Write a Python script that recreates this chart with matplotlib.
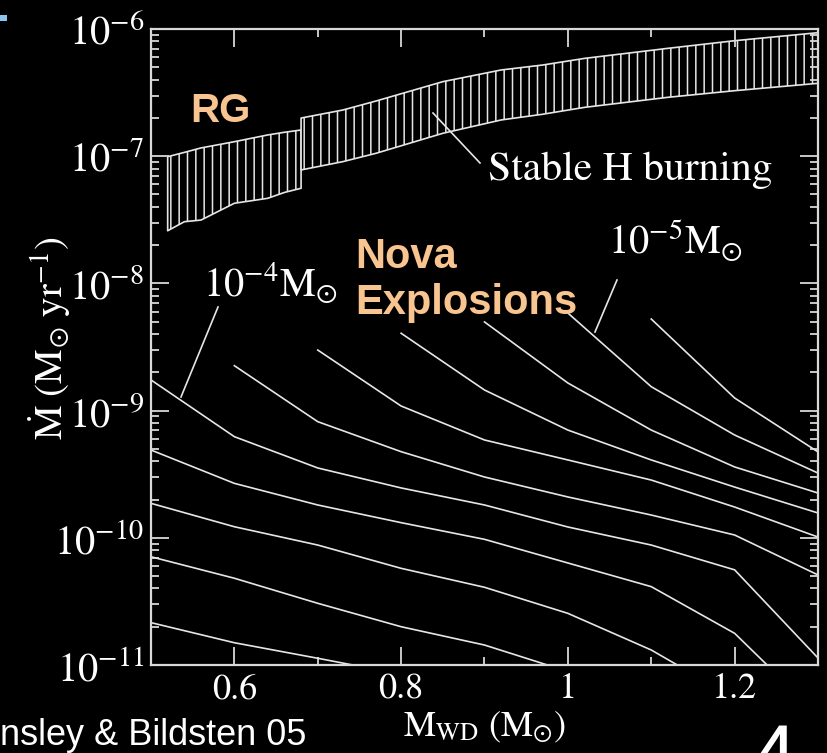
import matplotlib
matplotlib.use("Agg")
import numpy as np
import matplotlib.pyplot as plt
from matplotlib.lines import Line2D
from matplotlib.patches import Rectangle

plt.rcParams['mathtext.fontset'] = 'stix'
plt.rcParams['hatch.linewidth'] = 1.1

W, H = 828, 753
FG = '#e6e6e6'
ORANGE = '#f8c48f'

# White-dwarf mass grid (M_sun) on which the ignition curves are tabulated
mwd = [0.5, 0.6, 0.7, 0.8, 0.9, 1.0, 1.1, 1.2, 1.3]

# Mass at which each constant-ignition-mass curve begins
curve_start = [1.1, 1.0, 0.9, 0.8, 0.7, 0.6, 0.5, 0.5, 0.5, 0.5, 0.5]

# log10 accretion rate (M_sun/yr) along each curve, from the smallest
# ignition mass (upper right, 1e-5 is the second) to the largest (lower left)
curve_logmdot = [
    [-8.280, -8.901, -9.325],
    [-8.233, -8.812, -9.192, -9.491],
    [-8.303, -8.783, -9.153, -9.443, -9.648],
    [-8.392, -8.838, -9.153, -9.388, -9.601, -9.805],
    [-8.524, -8.964, -9.231, -9.388, -9.546, -9.758, -9.994],
    [-8.647, -9.087, -9.323, -9.522, -9.679, -9.821, -9.978, -10.292],
    [-8.759, -9.205, -9.451, -9.608, -9.742, -9.915, -10.057, -10.252, -10.945],
    [-9.310, -9.572, -9.742, -9.881, -10.012, -10.198, -10.384, -10.751, -11.39],
    [-9.729, -9.913, -10.057, -10.240, -10.389, -10.594, -10.882, -11.26],
    [-10.149, -10.318, -10.515, -10.699, -10.843, -11.051],
    [-10.667, -10.825, -10.947, -11.073],
]

# Stable hydrogen burning band (log10 Mdot), in two pieces with a step at 0.68
band1_m = [0.52, 0.54, 0.56, 0.60, 0.64, 0.66, 0.68]
band1_upper = [-7.004, -6.970, -6.935, -6.886, -6.833, -6.812, -6.794]
band1_lower = [-7.586, -7.515, -7.502, -7.370, -7.331, -7.285, -7.252]
band2_m = [0.68, 0.73, 0.77, 0.85, 0.92, 0.97, 1.02, 1.12, 1.20, 1.30]
band2_upper = [-6.700, -6.637, -6.566, -6.414, -6.322, -6.283, -6.231, -6.152, -6.092, -6.029]
band2_lower = [-7.108, -7.043, -6.977, -6.820, -6.715, -6.670, -6.616, -6.537, -6.485, -6.427]

x_major = [0.6, 0.8, 1.0, 1.2]
x_major_labels = ['0.6', '0.8', '1', '1.2']
x_minor = [0.7, 0.9, 1.1]
y_major = [1e-11, 1e-10, 1e-9, 1e-8, 1e-7, 1e-6]
y_major_labels = [r'$10^{-11}$', r'$10^{-10}$', r'$10^{-9}$',
                  r'$10^{-8}$', r'$10^{-7}$', r'$10^{-6}$']


def fx(x):
    return x / W


def fy(y):
    return 1 - y / H


fig = plt.figure(figsize=(W / 100, H / 100), dpi=100, facecolor='black')
ax = fig.add_axes([fx(151), fy(665), (818 - 151) / W, (665 - 29) / H])
ax.set_facecolor('black')
ax.set_yscale('log')
ax.set_xlim(0.5, 1.3)
ax.set_ylim(1e-11, 1e-6)

# constant ignition mass curves
for start, vals in zip(curve_start, curve_logmdot):
    i0 = mwd.index(start)
    m = mwd[i0:i0 + len(vals)]
    ax.plot(m, 10 ** np.array(vals), color=FG, lw=1.2, solid_joinstyle='miter')

# hatched stable-burning band
for m, lo, up in [(band1_m, band1_lower, band1_upper),
                  (band2_m, band2_lower, band2_upper)]:
    ax.fill_between(m, 10 ** np.array(lo), 10 ** np.array(up),
                    facecolor='black', edgecolor=FG, hatch='||', lw=1.2)

# axes styling
for s in ax.spines.values():
    s.set_color('#d8d8d8')
    s.set_linewidth(1.6)
ax.set_xticks(x_major, x_major_labels)
ax.set_xticks(x_minor, minor=True)
ax.set_yticks(y_major, y_major_labels)
ax.yaxis.set_minor_locator(matplotlib.ticker.LogLocator(base=10, subs=np.arange(2, 10)))
ax.yaxis.set_minor_formatter(matplotlib.ticker.NullFormatter())
ax.tick_params(which='both', direction='in', top=True, right=True,
               colors='#d8d8d8', width=1.3)
ax.tick_params(which='major', length=13)
ax.tick_params(which='minor', length=6)
ax.tick_params(axis='x', labelsize=26, pad=6, labelcolor='white')
ax.tick_params(axis='y', labelsize=29, pad=5, labelcolor='white')
for lab in ax.get_xticklabels():
    lab.set_family('STIXGeneral')

# axis titles
fig.text(fx(50), fy(338), r'$\dot{\mathrm{M}}\ (\mathrm{M}_{\odot}\ \mathrm{yr}^{-1})$',
         rotation=90, ha='center', va='center', fontsize=28, color='white')
fig.text(fx(485), fy(736), r'$\mathrm{M}_{\mathrm{WD}}\ (\mathrm{M}_{\odot})$',
         ha='center', va='baseline', fontsize=26, color='white')

# region labels
fig.text(fx(190), fy(122), 'RG', fontsize=29, fontweight='bold',
         family='Liberation Sans', color=ORANGE, va='baseline')
fig.text(fx(355), fy(268), 'Nova', fontsize=30, fontweight='bold',
         family='Liberation Sans', color=ORANGE, va='baseline')
fig.text(fx(355), fy(314), 'Explosions', fontsize=30, fontweight='bold',
         family='Liberation Sans', color=ORANGE, va='baseline')

fig.text(fx(488), fy(180), 'Stable H burning', fontsize=30,
         family='STIXGeneral', color='white', va='baseline')
fig.text(fx(203), fy(297), r'$10^{-4}\mathrm{M}_{\odot}$', fontsize=29,
         color='white', va='baseline')
fig.text(fx(608), fy(254), r'$10^{-5}\mathrm{M}_{\odot}$', fontsize=29,
         color='white', va='baseline')

# leader lines
for (x0, y0), (x1, y1) in [((433, 113), (480, 163)),
                           ((181, 397), (218, 307)),
                           ((595, 332), (617, 280))]:
    fig.add_artist(Line2D([fx(x0), fx(x1)], [fy(y0), fy(y1)],
                          transform=fig.transFigure, color=FG, lw=1.2))

# slide furniture: citation and page number along the bottom edge
fig.text(fx(0), fy(745), 'nsley & Bildsten 05', fontsize=26,
         family='Liberation Sans', color='white', ha='left', va='baseline')
fig.text(fx(750), fy(783), '4', fontsize=60, family='Liberation Sans',
         color='white', va='baseline')
fig.add_artist(Rectangle((0, fy(21)), fx(7), 6 / H, transform=fig.transFigure,
                         facecolor='#8cc4f0', edgecolor='none'))

fig.savefig('out.png', dpi=100, facecolor='black')
